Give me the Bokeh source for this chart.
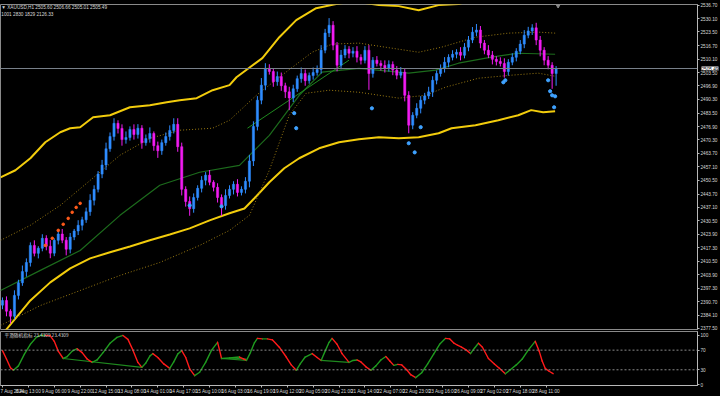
from bokeh.plotting import figure
from bokeh.layouts import column
from bokeh.models import Range1d, FixedTicker, Label, Span, NumeralTickFormatter
from bokeh.embed import file_html
from bokeh.resources import INLINE

# ---------------- data ----------------
closes = [2391.3, 2386.0, 2383.5, 2393.8, 2400.0, 2405.5, 2410.0, 2418.4, 2414.5, 2417.0,
          2421.9, 2418.0, 2414.6, 2420.9, 2424.0, 2421.0, 2416.5, 2422.5, 2425.5, 2428.3,
          2431.0, 2435.0, 2440.6, 2446.0, 2453.5, 2458.0, 2466.0, 2472.0, 2478.5, 2476.0,
          2470.5, 2471.5, 2475.5, 2473.0, 2476.1, 2469.0, 2471.0, 2473.5, 2467.5, 2465.0,
          2469.0, 2472.0, 2475.0, 2478.0, 2467.0, 2446.0, 2440.0, 2436.5, 2442.0, 2446.5,
          2450.5, 2453.0, 2449.5, 2447.0, 2442.0, 2438.0, 2443.0, 2446.0, 2448.5, 2444.5,
          2446.0, 2450.0, 2460.0, 2477.0, 2489.9, 2497.3, 2505.6, 2504.0, 2499.0, 2501.5,
          2497.0, 2494.0, 2491.0, 2495.5, 2500.5, 2503.0, 2499.5, 2502.0, 2503.5, 2505.0,
          2514.5, 2523.0, 2526.8, 2517.0, 2507.1, 2512.1, 2515.0, 2513.0, 2514.0, 2511.0,
          2509.5, 2514.5, 2503.0, 2509.6, 2508.0, 2507.0, 2505.5, 2507.5, 2504.7, 2502.2,
          2503.7, 2492.3, 2477.6, 2482.5, 2485.9, 2489.9, 2492.0, 2494.0, 2499.7, 2503.0,
          2505.5, 2508.6, 2511.0, 2512.5, 2513.5, 2512.0, 2516.0, 2519.5, 2523.4, 2524.4,
          2518.0, 2514.5, 2512.1, 2510.0, 2509.0, 2508.0, 2504.0, 2508.6, 2511.0, 2514.0,
          2517.5, 2521.9, 2524.0, 2525.5, 2519.5, 2514.5, 2509.6, 2507.1, 2503.0, 2505.49]
first_open = 2389.0
wick_up = [1.5, 2.0, 1.0, 2.5, 1.5, 3.0, 2.0, 1.5, 2.5, 1.0,
           2.0, 1.5, 3.0, 1.0, 2.0, 2.5, 1.5, 2.0, 1.0, 2.5,
           1.5, 2.0, 3.0, 2.0, 1.5, 2.5, 3.0, 2.0, 2.5, 1.5,
           2.0, 3.0, 1.5, 2.5, 2.0, 1.5, 2.0, 3.0, 1.0, 2.0,
           1.5, 2.0, 2.5, 3.0, 3.0, 2.0, 1.5, 2.5, 2.0, 1.5,
           2.0, 1.5, 2.5, 1.0, 2.0, 1.5, 3.0, 2.0, 1.5, 2.5,
           1.5, 2.0, 3.0, 2.5, 2.0, 3.5, 2.5, 2.0, 1.5, 2.5,
           2.0, 1.5, 2.5, 2.0, 1.5, 3.0, 2.0, 1.5, 2.5, 2.0,
           2.5, 2.0, 3.5, 2.0, 1.5, 2.5, 2.0, 1.5, 2.0, 2.5,
           1.5, 2.0, 2.5, 1.5, 2.0, 1.5, 2.5, 2.0, 1.5, 2.0,
           2.5, 1.5, 2.0, 1.5, 2.5, 2.0, 1.5, 2.5, 2.0, 1.5,
           2.0, 2.5, 1.5, 2.0, 1.5, 2.5, 2.0, 2.0, 2.5, 3.0,
           2.0, 1.5, 2.5, 2.0, 1.5, 2.0, 2.5, 1.5, 2.0, 1.5,
           2.0, 2.5, 2.0, 1.8, 2.5, 2.0, 1.5, 2.0, 1.5, 1.2]
wick_dn = [2.0, 2.5, 3.5, 1.5, 2.0, 1.5, 2.5, 2.0, 1.5, 2.5,
           1.5, 2.0, 2.5, 1.5, 2.0, 1.5, 3.0, 2.0, 1.5, 2.0,
           2.5, 1.5, 2.0, 2.5, 1.5, 2.0, 2.5, 1.5, 2.0, 2.5,
           3.0, 2.0, 1.5, 2.5, 2.0, 3.0, 1.5, 2.0, 2.5, 3.5,
           2.0, 1.5, 2.0, 1.5, 2.5, 3.0, 2.5, 3.5, 2.0, 1.5,
           2.0, 2.5, 1.5, 2.0, 2.5, 5.0, 2.0, 1.5, 2.5, 2.0,
           1.5, 2.0, 3.0, 2.5, 2.0, 2.0, 2.5, 1.5, 2.5, 2.0,
           2.5, 3.0, 6.0, 2.0, 1.5, 2.0, 2.5, 1.5, 2.0, 1.5,
           2.0, 1.5, 2.0, 2.5, 3.0, 2.0, 1.5, 2.5, 2.0, 2.5,
           2.0, 1.5, 8.0, 2.0, 1.5, 2.5, 2.0, 1.5, 2.5, 2.0,
           1.5, 3.0, 4.0, 2.0, 1.5, 2.5, 2.0, 1.5, 2.5, 2.0,
           1.5, 2.0, 2.5, 1.5, 2.0, 2.5, 1.5, 2.0, 1.5, 2.0,
           2.5, 2.0, 1.5, 2.5, 2.0, 1.5, 3.0, 2.0, 1.5, 2.0,
           1.5, 2.0, 1.5, 2.0, 2.5, 3.0, 2.5, 2.0, 7.5, 6.0]

upper_x = [-0.5, 3.25, 7, 10.75, 14.5, 17, 19.5, 22.75, 27, 32, 37, 41.25, 44.5, 48.75,
           52.75, 57, 58.75, 65.25, 69.5, 73.75, 78.75, 83.75, 87, 89.5, 94.5, 99.5, 104.5,
           109.5, 114.5, 117, 122, 129.5, 139]
upper_y = [2451.9, 2455.4, 2461.3, 2469.2, 2474.1, 2476.1, 2476.6, 2481.5, 2482.5, 2486.4,
           2487.4, 2488.9, 2489.9, 2490.9, 2494.8, 2497.3, 2501.2, 2510.6, 2520.9, 2529.3,
           2535.2, 2537.2, 2538.2, 2538.2, 2536.7, 2536.2, 2534.2, 2536.7, 2537.2, 2538.7,
           2540.6, 2542.1, 2541.0]
lower_x = [0.75, 7, 12, 17, 22, 27, 32, 37, 42, 47, 52, 57, 60.75, 63.25, 67, 70.75, 74.5,
           79.5, 84.5, 89.5, 94.5, 99.5, 104.5, 109.5, 112.75, 118.75, 124.5, 129.5, 132.75,
           135.75, 138.75]
lower_y = [2376.5, 2391.3, 2400.2, 2407.1, 2412.0, 2415.0, 2417.9, 2420.9, 2423.8, 2426.8,
           2430.7, 2434.2, 2436.6, 2441.6, 2449.5, 2456.4, 2461.3, 2466.2, 2469.2, 2470.7,
           2471.6, 2471.1, 2471.6, 2473.6, 2476.1, 2477.6, 2480.0, 2482.5, 2485.0, 2484.0,
           2484.5]
inner_up_x = [-0.5, 7, 14.5, 22, 29.5, 37, 44.5, 52.75, 57, 63.75, 69.5, 77.75, 82.75, 89.5,
              97.75, 104.5, 110.25, 118.75, 127, 134.5, 138.75]
inner_up_y = [2420.9, 2428.3, 2438.1, 2450.4, 2462.8, 2471.1, 2475.1, 2476.1, 2480.0, 2492.3,
              2501.2, 2513.5, 2517.5, 2518.0, 2515.5, 2513.5, 2516.0, 2520.9, 2522.9, 2523.4,
              2522.9]
inner_lo_x = [-0.5, 9.5, 19.5, 29.5, 39.5, 49.5, 57, 62, 67, 72, 76.25, 82, 89.5, 99.5,
              106.25, 111.25, 119.5, 127.75, 134.5, 138.75]
inner_lo_y = [2379.0, 2388.8, 2396.2, 2403.6, 2410.0, 2418.4, 2425.8, 2433.2, 2455.4, 2482.5,
              2493.3, 2494.8, 2493.8, 2490.9, 2492.3, 2496.3, 2500.7, 2502.2, 2503.2, 2501.7]
mid_x = [-0.5, 9.5, 19.5, 29.5, 39.5, 49.5, 59.5, 67, 74.5, 80.25, 89.5, 102, 108.75, 114.5,
         122.75, 129.5, 138.75]
mid_y = [2396.2, 2406.1, 2415.9, 2433.2, 2448.0, 2454.4, 2457.8, 2472.6, 2492.3, 2503.7,
         2505.6, 2503.2, 2504.7, 2508.1, 2511.1, 2513.0, 2512.5]
trend_x = [61.5, 87]
trend_y = [2476.1, 2509.6]

blue_dot_x = [47, 55, 73.25, 73.75, 92.75, 102, 103.5, 105, 125.75, 126.25, 137, 137.5, 138,
              138.75, 138.5]
blue_dot_y = [2438.1, 2437.6, 2483.5, 2476.1, 2485.9, 2468.7, 2464.2, 2476.6, 2498.7, 2499.7,
              2499.7, 2494.3, 2492.3, 2491.8, 2486.4]
orange_dot_x = [10.75, 12.5, 14, 15.25, 16.5, 17.5, 18.5, 19.5]
orange_dot_y = [2418.4, 2421.9, 2425.8, 2428.8, 2431.7, 2434.7, 2437.1, 2439.1]

price_ticks = [2377.5, 2384.1, 2390.7, 2397.3, 2403.9, 2410.5, 2417.3, 2423.9, 2430.5,
               2437.1, 2443.7, 2450.5, 2457.1, 2463.7, 2470.3, 2476.9, 2483.5, 2490.3,
               2496.9, 2503.5, 2510.1, 2516.7, 2523.5, 2530.1, 2536.7]
last_price = 2505.49

stoch_x = [0, 1, 2, 2.75, 4, 5.5, 7, 8.5, 9.5, 10.75, 12, 13, 14, 15.25, 16.25, 17.5, 18.75,
           20, 21.25, 22.5, 23.75, 25.25, 27, 28.75, 30.25, 31.5, 32.75, 34, 35, 36, 37, 37.75,
           39, 40.5, 42, 43, 44, 45, 46, 47, 48.25, 49.5, 51, 52.5, 54, 54.5, 55, 57, 59.5,
           60.5, 61.25, 62.25, 63.25, 64, 65.25, 66.5, 67.75, 69.5, 71.25, 72.5, 73.75, 74.75,
           76, 77.75, 79, 80, 81, 82, 82.75, 84, 85.25, 87, 88, 89, 90, 91.25, 92.5, 93.75, 95,
           96.25, 97.25, 98.25, 99.25, 100.25, 101.5, 102.5, 103.75, 105.25, 106.75, 108.25,
           109.75, 111.25, 112.25, 113.25, 114.25, 115.25, 116.5, 117.5, 118.5, 119.5, 120.5,
           122, 123.5, 124.75, 126.25, 127.5, 129, 130.5, 132, 133.75, 134.75, 135.5, 136.25,
           137.25, 138.25]
stoch_v = [69, 52, 34, 29, 38, 62, 82, 96, 100, 100, 99, 88, 68, 53, 57, 68, 73,
           65, 52, 45, 50, 65, 84, 96, 100, 92, 70, 45, 35, 44, 58, 63,
           55, 42, 33, 46, 62, 69, 55, 32, 18, 25, 45, 70, 86, 70, 53, 54, 56,
           52, 49, 65, 85, 94, 93, 93, 91, 76, 56, 40, 29, 42,
           56, 63, 55, 49, 68, 86, 94, 82, 63, 45, 49, 50, 46, 36, 29, 38, 50,
           57, 48, 39, 41, 40, 30, 20, 14, 24, 42, 62,
           82, 94, 93, 85, 80, 76, 70, 63, 74, 84, 76,
           53, 42, 33, 22, 30, 40, 52, 70, 88, 68, 48, 33,
           27, 22]
div_x0 = [15.25, 55, 57, 80]
div_y0 = [53, 53, 54, 49]
div_x1 = [35, 61.25, 61.25, 87]
div_y1 = [35, 49, 52, 45]

time_ticks = [0, 6.5, 13, 19.5, 26, 32.5, 39, 45.5, 52, 58.5, 65, 71.5, 78, 84.5, 91, 97.5,
              104, 110.5, 117, 123.5, 130, 136.5]
time_labels = ["7 Aug 2024", "8 Aug 13:00", "9 Aug 06:00", "9 Aug 22:00", "12 Aug 15:00",
               "13 Aug 08:00", "14 Aug 01:00", "14 Aug 17:00", "15 Aug 10:00", "16 Aug 03:00",
               "16 Aug 19:00", "19 Aug 12:00", "20 Aug 05:00", "20 Aug 21:00", "21 Aug 14:00",
               "22 Aug 07:00", "22 Aug 23:00", "23 Aug 16:00", "26 Aug 09:00", "27 Aug 02:00",
               "27 Aug 18:00", "28 Aug 11:00"]

title_line1 = "▼ XAUUSD,H1  2505.60 2506.66 2505.01 2505.49"
title_line2 = "1001 2830 1829 2126.33"
ind_title = "平滑随机指标 23.4309 23.4309"

# ---------------- derived ----------------
opens = [first_open] + closes[:-1]
idx = list(range(len(closes)))
highs = [max(o, c) + w for o, c, w in zip(opens, closes, wick_up)]
lows = [min(o, c) - w for o, c, w in zip(opens, closes, wick_dn)]
UP, DN = "#2f8cff", "#f21cf2"
colors = [UP if c >= o else DN for o, c in zip(opens, closes)]
tops = [max(o, c) for o, c in zip(opens, closes)]
bots = [min(o, c) for o, c in zip(opens, closes)]

FONT = "Liberation Sans"
FS = "4.7px"
LBL = "#d8d8d8"
AX = "#b8b8b8"
XR = Range1d(-0.5, 174.5)

# ---------------- main chart ----------------
p = figure(width=720, height=330, x_range=XR, y_range=Range1d(2377.0, 2537.0),
           output_backend="svg", toolbar_location=None, x_axis_location=None,
           y_axis_location="right", min_border_left=0, min_border_right=20,
           min_border_top=0, min_border_bottom=1, background_fill_color="black",
           border_fill_color="black", outline_line_color="#8a8a8a")
p.grid.visible = False
ya = p.yaxis[0]
ya.ticker = FixedTicker(ticks=price_ticks)
ya.formatter = NumeralTickFormatter(format="0.00")
ya.major_label_text_font = FONT
ya.major_label_text_font_size = FS
ya.major_label_text_color = LBL
ya.axis_line_color = AX
ya.major_tick_line_color = AX
ya.major_tick_out = 2
ya.major_tick_in = 0
ya.minor_tick_line_color = None
ya.major_label_standoff = 1

p.add_layout(Span(location=last_price, dimension="width", line_color="#78808a", line_width=1))

p.line(upper_x, upper_y, line_color="#f2cc0c", line_width=2)
p.line(lower_x, lower_y, line_color="#f2cc0c", line_width=2)
p.line(inner_up_x, inner_up_y, line_color="#9a7a12", line_width=1, line_dash="1 2")
p.line(inner_lo_x, inner_lo_y, line_color="#9a7a12", line_width=1, line_dash="1 2")
p.line(mid_x, mid_y, line_color="#1c6b1c", line_width=1.2)
p.line(trend_x, trend_y, line_color="#1f8a1f", line_width=1)

p.segment(x0=idx, y0=lows, x1=idx, y1=highs, line_color=colors, line_width=1)
p.vbar(x=idx, bottom=bots, top=tops, width=0.55, fill_color=colors, line_color=colors,
       line_width=0.5)

p.scatter(blue_dot_x, blue_dot_y, size=3.2, color="#3fa2ff")
p.scatter(orange_dot_x, orange_dot_y, size=2.6, color="#ff5a1a")
p.scatter([139.5], [2536.4], marker="inverted_triangle", size=4, color="#8a8a8a")

p.add_layout(Label(x=-0.3, y=2536.8, text=title_line1, text_font=FONT,
                   text_font_size=FS, text_color=LBL, text_baseline="top"))
p.add_layout(Label(x=-0.3, y=2533.4, text=title_line2, text_font=FONT,
                   text_font_size=FS, text_color=LBL, text_baseline="top"))
# price box on the axis: placed in a side panel so that it is not clipped to the frame
price_box = Label(x=701, y=last_price, x_units="screen", text="2505.49", text_font=FONT,
                  text_font_size=FS, text_color="black", text_baseline="middle",
                  background_fill_color="white")
p.add_layout(price_box, "above")

# ---------------- indicator panel ----------------
q = figure(width=720, height=66, x_range=XR, y_range=Range1d(-2, 108),
           output_backend="svg", toolbar_location=None, y_axis_location="right",
           min_border_left=0, min_border_right=20, min_border_top=1, min_border_bottom=0,
           background_fill_color="black", border_fill_color="black",
           outline_line_color="#8a8a8a")
q.grid.visible = False
for ax in (q.yaxis[0], q.xaxis[0]):
    ax.major_label_text_font = FONT
    ax.major_label_text_font_size = FS
    ax.major_label_text_color = LBL
    ax.axis_line_color = AX
    ax.major_tick_line_color = AX
    ax.major_tick_out = 2
    ax.major_tick_in = 0
    ax.minor_tick_line_color = None
    ax.major_label_standoff = 1
q.yaxis[0].ticker = FixedTicker(ticks=[0, 30, 70, 100])
q.xaxis[0].ticker = FixedTicker(ticks=time_ticks)
q.xaxis[0].major_label_overrides = {t: s for t, s in zip(time_ticks, time_labels)}
q.xaxis[0].major_label_text_align = "left"

for lvl in (30, 70):
    q.add_layout(Span(location=lvl, dimension="width", line_color="#8a8a8a",
                      line_width=1, line_dash="2 2"))

sx0 = stoch_x[:-1]
sx1 = stoch_x[1:]
sy0 = stoch_v[:-1]
sy1 = stoch_v[1:]
scol = ["#1f9a1f" if b >= a else "#ff1a1a" for a, b in zip(sy0, sy1)]
q.segment(x0=div_x0, y0=div_y0, x1=div_x1, y1=div_y1, line_color="#1f8a1f", line_width=1.2)
q.segment(x0=sx0, y0=sy0, x1=sx1, y1=sy1, line_color=scol, line_width=1.4,
          line_cap="round")
q.add_layout(Label(x=0.5, y=106, text=ind_title, text_font="Noto Sans CJK SC",
                   text_font_size=FS, text_color=LBL, text_baseline="top"))

layout = column(p, q, spacing=0, styles={"background-color": "black"})
html = file_html(layout, INLINE)
html = html.replace("<body>", "<body style=\"margin:0;background:#000;overflow:hidden;\">")
open("out.html", "w").write(html)
